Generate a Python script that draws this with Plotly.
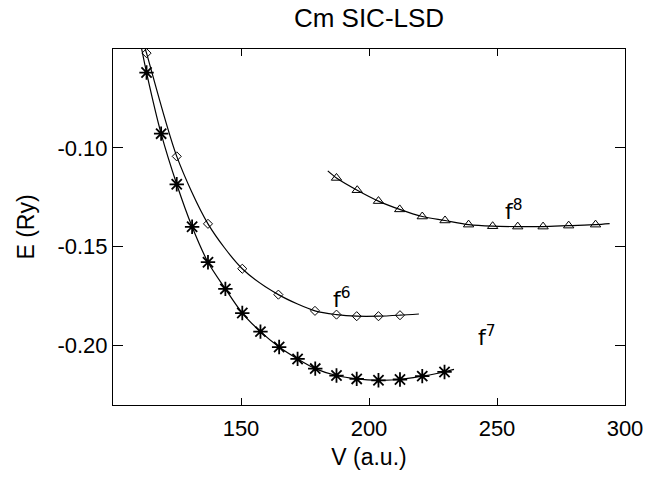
import plotly.graph_objects as go

# f7 (asterisks)
V_f7 = [113.1, 118.8, 124.9, 130.9, 137.1, 143.9, 150.5, 157.6, 164.9, 172.1,
        179.0, 187.3, 195.2, 203.7, 212.1, 220.8, 229.5]
E_f7 = [-0.0619, -0.0928, -0.1184, -0.1399, -0.1578, -0.1713, -0.1835, -0.1929,
        -0.2007, -0.2067, -0.2116, -0.2151, -0.2168, -0.2175, -0.2171, -0.2154, -0.2133]
# f6 (diamonds)
V_f6 = [113.1, 124.9, 137.1, 150.5, 164.6, 178.9, 187.3, 195.2, 203.7, 212.1]
E_f6 = [-0.0521, -0.1043, -0.1384, -0.1611, -0.1742, -0.1824, -0.1843, -0.1851, -0.1851, -0.1846]
# f8 (triangles)
V_f8 = [187.3, 195.4, 203.7, 212.0, 220.8, 229.7, 238.9, 248.3, 258.1, 268.0, 278.0, 288.5]
E_f8 = [-0.1152, -0.1214, -0.1269, -0.1311, -0.1347, -0.1367, -0.1388, -0.1396,
        -0.1398, -0.1398, -0.1393, -0.1388]

# fitted-curve end points
f7_start, f7_end = (111.2, -0.0500), (233.2, -0.2120)
f6_start, f6_end = (112.6, -0.0500), (219.5, -0.1840)
f8_start, f8_end = (183.9, -0.1116), (294.0, -0.1383)

labels = ["f<sup>6</sup>", "f<sup>7</sup>", "f<sup>8</sup>"]
label_V = [189.5, 246.0, 256.5]
label_E = [-0.1760, -0.1950, -0.1315]

xticks = [150, 200, 250, 300]
yticks = [-0.20, -0.15, -0.10]

fig = go.Figure()

def curve(V, E, start, end):
    xs = [start[0]] + V + [end[0]]
    ys = [start[1]] + E + [end[1]]
    fig.add_trace(go.Scatter(x=xs, y=ys, mode="lines",
                             line=dict(color="black", width=1.2, shape="spline", smoothing=0.8),
                             hoverinfo="skip", showlegend=False))

curve(V_f7, E_f7, f7_start, f7_end)
curve(V_f6, E_f6, f6_start, f6_end)
curve(V_f8, E_f8, f8_start, f8_end)

fig.add_trace(go.Scatter(x=V_f7, y=E_f7, mode="markers", showlegend=False,
                         marker=dict(symbol="asterisk-open", size=12, color="black",
                                     line=dict(color="black", width=1.8))))
fig.add_trace(go.Scatter(x=V_f6, y=E_f6, mode="markers", showlegend=False,
                         marker=dict(symbol="diamond-open", size=7, color="black",
                                     line=dict(color="black", width=1))))
fig.add_trace(go.Scatter(x=V_f8, y=E_f8, mode="markers", showlegend=False,
                         marker=dict(symbol="triangle-up-open", size=9, color="black",
                                     line=dict(color="black", width=1))))

for t, vx, ey in zip(labels, label_V, label_E):
    fig.add_annotation(x=vx, y=ey, text=t, showarrow=False,
                       font=dict(family="DejaVu Sans", size=22, color="black"))

font = "Liberation Sans, Arial, sans-serif"
fig.update_layout(
    width=655, height=478,
    margin=dict(l=113, r=22, t=49, b=60),
    paper_bgcolor="white", plot_bgcolor="white",
    title=dict(text="Cm SIC-LSD", x=0.5, xref="paper", xanchor="center", y=0.962, yanchor="middle",
               font=dict(family=font, size=26, color="black")),
    font=dict(family=font, color="black"),
    xaxis=dict(range=[100, 300], tickvals=xticks, ticktext=[str(v) for v in xticks],
               ticks="inside", ticklen=7, tickcolor="black", mirror="ticks",
               showline=True, linecolor="black", linewidth=1, showgrid=False, zeroline=False,
               ticklabelstandoff=4,
               tickfont=dict(size=22), title=dict(text="V (a.u.)", font=dict(size=23), standoff=8)),
    yaxis=dict(range=[-0.23, -0.05], tickvals=yticks, ticktext=["-0.20", "-0.15", "-0.10"],
               ticks="inside", ticklen=10, tickcolor="black", mirror="ticks",
               showline=True, linecolor="black", linewidth=1, showgrid=False, zeroline=False,
               tickfont=dict(size=22), title=dict(text="E (Ry)", font=dict(size=23), standoff=16)),
)

fig.write_html("out.html", config={"displayModeBar": False},
               post_script="document.body.style.margin='0px';document.body.style.overflow='hidden';")
